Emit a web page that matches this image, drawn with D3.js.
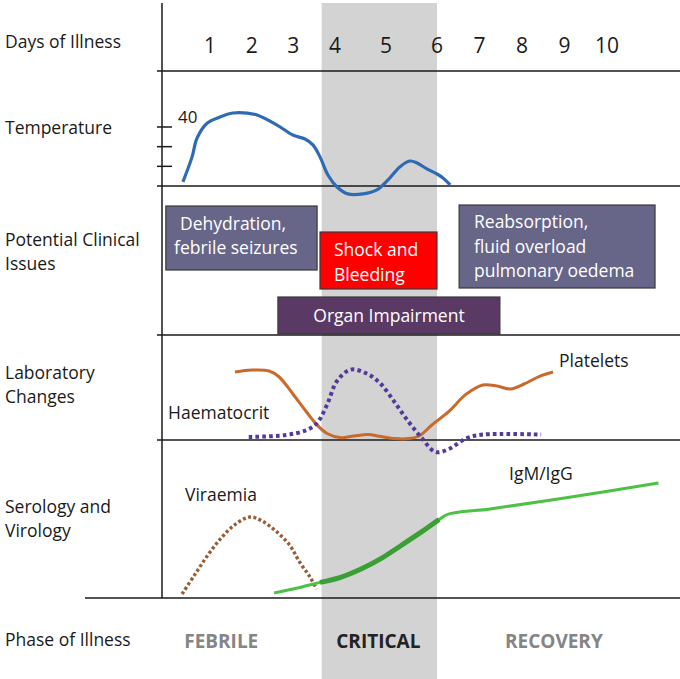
<!DOCTYPE html>
<html>
<head>
<meta charset="utf-8">
<script src="https://d3js.org/d3.v7.min.js"></script>
<style>
  body { margin: 0; background: #fff; }
  svg text { font-family: "Open Sans", "DejaVu Sans", sans-serif; }
</style>
</head>
<body>
<div id="chart"></div>
<script>
// ---- data (days of illness on x) ----
var days = [1, 2, 3, 4, 5, 6, 7, 8, 9, 10];
var criticalSpan = [3.68, 6.0];

var rowLabels = [["Days of Illness"], ["Temperature"], ["Potential Clinical", "Issues"],
                 ["Laboratory", "Changes"], ["Serology and", "Virology"], ["Phase of Illness"]];

var tempTicks = [40, 39, 38];
var tempDays = [0.35, 0.57, 0.69, 0.93, 1.24, 1.55, 1.89, 2.13, 2.61, 2.99, 3.28, 3.47, 3.64,
                3.83, 4.04, 4.25, 4.55, 4.82, 5.04, 5.27, 5.47, 5.61, 5.80, 6.00, 6.14, 6.31];
var tempVals = [37.21, 38.48, 39.44, 40.19, 40.51, 40.71, 40.71, 40.61, 40.10, 39.59, 39.39, 39.09, 38.48,
                37.56, 36.95, 36.60, 36.60, 36.80, 37.31, 37.97, 38.27, 38.17, 37.87, 37.61, 37.41, 37.06];

var issueNames = [["Dehydration,", "febrile seizures"], ["Shock and", "Bleeding"],
                  ["Reabsorption,", "fluid overload", "pulmonary oedema"], ["Organ Impairment"]];
var issueStart = [-0.06, 3.64, 6.52, 2.63];
var issueEnd = [3.57, 6.0, 11.13, 7.48];
var issueColors = ["#676588", "#ff0000", "#676588", "#5a3a64"];

var plateletDays = [1.60, 2.01, 2.42, 2.66, 2.99, 3.30, 3.57, 3.81, 4.10, 4.37, 4.65, 4.90,
                    5.18, 5.44, 5.65, 5.90, 6.28, 6.68, 7.08, 7.41, 7.73, 8.05, 8.45, 8.73];
var plateletVals = [68, 70, 69, 63, 46, 29, 15, 6.5, 2.4, 4, 5.4, 3.4,
                    1.4, 1.4, 4, 15, 28.6, 45.6, 55, 54, 51, 56, 64.3, 68];

var haemDays = [1.93, 2.82, 3.32, 3.57, 3.81, 4.04, 4.31, 4.64, 4.90, 5.18, 5.44, 5.71,
                5.97, 6.28, 6.68, 7.08, 8.45];
var haemVals = [3, 5, 10, 17, 35.4, 59, 70.4, 66, 56, 37, 18.4, 1.4,
                -12, -9, 1.4, 5.4, 5.4];

var viraemiaDays = [0.33, 0.62, 0.95, 1.27, 1.60, 1.96, 2.25, 2.58, 2.91, 3.15, 3.40, 3.56];
var viraemiaVals = [4, 22.4, 43, 60, 73.4, 81, 77, 67, 53, 36, 21, 9];

var iggDays = [2.54, 2.99, 3.64, 4.11, 4.51, 4.90, 5.31, 5.71, 6.05, 6.25, 7.25, 8.85, 11.21];
var iggVals = [5, 9, 15.6, 20.7, 29, 39.4, 53, 66.6, 78.5, 83.6, 89, 99, 115];

var phases = ["FEBRILE", "CRITICAL", "RECOVERY"];
var phaseMid = [1.27, 4.85, 8.75];
var phaseColors = ["#858585", "#222222", "#858585"];

// ---- layout ----
var width = 680, height = 679;
var axisX = 162;
var rowLines = [71, 186, 335, 440, 598];
var labelY = [[48], [134], [246, 270], [379, 403], [513, 537], [646]];

var svg = d3.select("#chart").append("svg")
  .attr("width", width).attr("height", height);

// day scale: the critical days are drawn a little wider
var x = d3.scaleLinear().domain([1, 4, 6, 10]).range([210, 335, 437, 607]);
var yTemp = d3.scaleLinear().domain([37, 40]).range([186, 127]);
var yLab = d3.scaleLinear().domain([0, 100]).range([440, 340]);
var ySero = d3.scaleLinear().domain([0, 100]).range([598, 498]);

// critical band
svg.append("rect")
  .attr("x", x(criticalSpan[0])).attr("y", 3)
  .attr("width", x(criticalSpan[1]) - x(criticalSpan[0])).attr("height", height - 3)
  .attr("fill", "#d3d3d3");

// grid lines
svg.append("line").attr("x1", axisX).attr("x2", axisX).attr("y1", 3).attr("y2", 598)
  .attr("stroke", "#1a1a1a").attr("stroke-width", 1.5);
rowLines.forEach(function (y, i) {
  svg.append("line")
    .attr("x1", i == rowLines.length - 1 ? 85 : 157).attr("x2", width)
    .attr("y1", y).attr("y2", y)
    .attr("stroke", "#1a1a1a").attr("stroke-width", 1.5);
});

// row labels
rowLabels.forEach(function (lines, i) {
  lines.forEach(function (t, j) {
    svg.append("text").attr("x", 5).attr("y", labelY[i][j])
      .attr("font-size", 17.5).attr("fill", "#1a1a1a").text(t);
  });
});

// day numbers
svg.selectAll(".day").data(days).enter().append("text")
  .attr("class", "day")
  .attr("x", function (d) { return x(d); }).attr("y", 53)
  .attr("text-anchor", "middle").attr("font-size", 21).attr("fill", "#1a1a1a")
  .text(function (d) { return d; });

// temperature axis ticks
svg.selectAll(".tt").data(tempTicks).enter().append("line")
  .attr("x1", 157).attr("x2", 172)
  .attr("y1", function (d) { return yTemp(d); }).attr("y2", function (d) { return yTemp(d); })
  .attr("stroke", "#1a1a1a").attr("stroke-width", 1.5);
svg.append("text").attr("x", 178).attr("y", yTemp(40) - 4)
  .attr("font-size", 17).attr("fill", "#1a1a1a").text("40");

function curve(xs, ys, yScale) {
  return d3.line()
    .x(function (d, i) { return x(xs[i]); })
    .y(function (d, i) { return yScale(ys[i]); })
    .curve(d3.curveCatmullRom)(xs);
}

// temperature
svg.append("path").attr("d", curve(tempDays, tempVals, yTemp))
  .attr("fill", "none").attr("stroke", "#2e6bb4").attr("stroke-width", 3.2);

// clinical issues
var boxTop = [206, 232, 205, 297], boxBottom = [270, 289, 288, 334];
issueNames.forEach(function (lines, i) {
  var x0 = x(issueStart[i]), x1 = x(issueEnd[i]);
  svg.append("rect")
    .attr("x", x0).attr("y", boxTop[i])
    .attr("width", x1 - x0).attr("height", boxBottom[i] - boxTop[i])
    .attr("fill", issueColors[i]).attr("stroke", "#3a3a3a").attr("stroke-width", 1.2);
});
var boxText = [
  [[180, 230], [174, 254]],
  [[334, 256], [334, 281]],
  [[474, 228], [474, 253], [474, 277]],
  [[389, 322]]
];
issueNames.forEach(function (lines, i) {
  lines.forEach(function (t, j) {
    svg.append("text")
      .attr("x", boxText[i][j][0]).attr("y", boxText[i][j][1])
      .attr("text-anchor", i == 3 ? "middle" : "start")
      .attr("font-size", 17.5).attr("fill", "#ffffff").text(t);
  });
});

// laboratory changes
svg.append("path").attr("d", curve(plateletDays, plateletVals, yLab))
  .attr("fill", "none").attr("stroke", "#c9692b").attr("stroke-width", 3);
svg.append("path").attr("d", curve(haemDays, haemVals, yLab))
  .attr("fill", "none").attr("stroke", "#52399a").attr("stroke-width", 4)
  .attr("stroke-dasharray", "3.6,3.2");
svg.append("text").attr("x", 559).attr("y", 367)
  .attr("font-size", 17.5).attr("fill", "#1a1a1a").text("Platelets");
svg.append("text").attr("x", 168).attr("y", 419)
  .attr("font-size", 17.5).attr("fill", "#1a1a1a").text("Haematocrit");

// serology and virology
svg.append("path").attr("d", curve(viraemiaDays, viraemiaVals, ySero))
  .attr("fill", "none").attr("stroke", "#9a5c33").attr("stroke-width", 3.4)
  .attr("stroke-dasharray", "3,2.4");
svg.append("path").attr("d", curve(iggDays, iggVals, ySero))
  .attr("fill", "none").attr("stroke", "#4cc244").attr("stroke-width", 3);
var midIdx = d3.range(2, 9);
svg.append("path")
  .attr("d", curve(midIdx.map(function (i) { return iggDays[i]; }),
                   midIdx.map(function (i) { return iggVals[i]; }), ySero))
  .attr("fill", "none").attr("stroke", "#3a9f34").attr("stroke-width", 5);
svg.append("text").attr("x", 509).attr("y", 480)
  .attr("font-size", 17.5).attr("fill", "#1a1a1a").text("IgM/IgG");
svg.append("text").attr("x", 185).attr("y", 501)
  .attr("font-size", 17.5).attr("fill", "#1a1a1a").text("Viraemia");

// phases
svg.selectAll(".phase").data(phases).enter().append("text")
  .attr("class", "phase")
  .attr("x", function (d, i) { return x(phaseMid[i]); }).attr("y", 648)
  .attr("text-anchor", "middle").attr("font-size", 19).attr("font-weight", "bold")
  .attr("fill", function (d, i) { return phaseColors[i]; })
  .text(function (d) { return d; });
</script>
</body>
</html>
